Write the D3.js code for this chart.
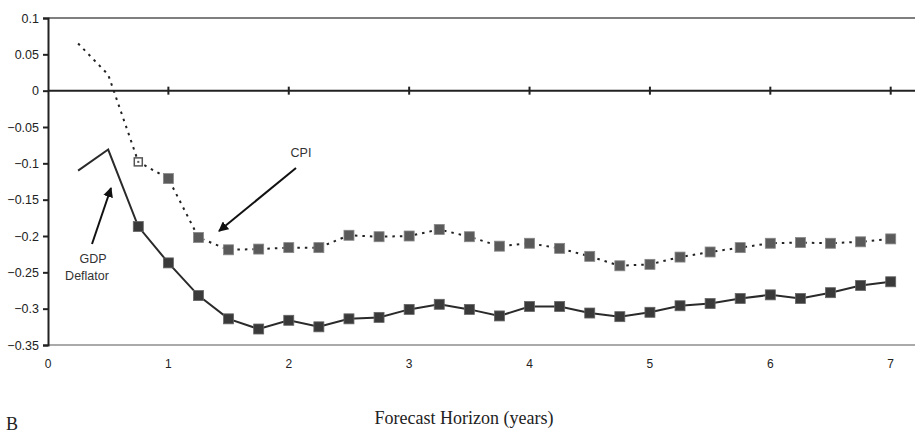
<!DOCTYPE html>
<html>
<head>
<meta charset="utf-8">
<script src="https://cdn.jsdelivr.net/npm/d3@7"></script>
<style>
  body { margin: 0; background: #fff; }
  svg { display: block; }
</style>
</head>
<body>
<div class="vis-chart"></div>
<script>
// forecast horizon in years (quarterly)
const horizon = [0.25, 0.5, 0.75, 1, 1.25, 1.5, 1.75, 2, 2.25, 2.5, 2.75, 3, 3.25, 3.5,
    3.75, 4, 4.25, 4.5, 4.75, 5, 5.25, 5.5, 5.75, 6, 6.25, 6.5, 6.75, 7];
const cpi = [0.065, 0.022, -0.098, -0.121, -0.202, -0.219, -0.218, -0.216, -0.216, -0.199,
    -0.201, -0.200, -0.191, -0.201, -0.214, -0.210, -0.217, -0.228, -0.241, -0.239,
    -0.229, -0.222, -0.216, -0.210, -0.209, -0.210, -0.208, -0.204];
const gdpDeflator = [-0.110, -0.081, -0.187, -0.237, -0.282, -0.314, -0.328, -0.316, -0.325,
    -0.314, -0.312, -0.301, -0.294, -0.301, -0.310, -0.297, -0.297, -0.306, -0.311,
    -0.305, -0.296, -0.293, -0.286, -0.281, -0.286, -0.278, -0.268, -0.263];
const yTicks = [0.1, 0.05, 0, -0.05, -0.1, -0.15, -0.2, -0.25, -0.3, -0.35];
const xTicks = [0, 1, 2, 3, 4, 5, 6, 7];

const W = 915, H = 434;

const svg = d3.select('.vis-chart')
    .append('svg')
    .attr('width', W)
    .attr('height', H);

const x = d3.scaleLinear().domain([0, 7]).range([48, 890.7]);
const y = d3.scaleLinear().domain([-0.35, 0.1]).range([345, 18]);

const sans = 'Liberation Sans, Arial, sans-serif';
const serif = 'Liberation Serif, Times New Roman, serif';

svg.append('defs').append('marker')
    .attr('id', 'arrow')
    .attr('viewBox', '0 0 10 10')
    .attr('refX', 9).attr('refY', 5)
    .attr('markerWidth', 5).attr('markerHeight', 5)
    .attr('orient', 'auto')
    .append('path')
    .attr('d', 'M0,0 L10,5 L0,10 z')
    .attr('fill', '#111');

// top and bottom frame lines
svg.append('line')
    .attr('x1', x(0)).attr('x2', W)
    .attr('y1', y(0.1)).attr('y2', y(0.1))
    .attr('stroke', '#555').attr('stroke-width', 1.5);
svg.append('line')
    .attr('x1', x(0)).attr('x2', W)
    .attr('y1', y(-0.35)).attr('y2', y(-0.35))
    .attr('stroke', '#aaa').attr('stroke-width', 2);

// y axis
const yAxis = svg.append('g')
    .attr('transform', 'translate(' + x(0) + ',0)')
    .call(d3.axisLeft(y).tickValues(yTicks).tickSize(5).tickPadding(4)
        .tickFormat(d => d3.format('')(+d.toFixed(2))));
yAxis.select('.domain').attr('stroke', '#222').attr('stroke-width', 2);
yAxis.selectAll('.tick line').attr('stroke', '#222').attr('stroke-width', 2);
yAxis.selectAll('text')
    .style('font-family', sans)
    .style('font-size', '12.5px')
    .attr('fill', '#222');

// zero line with crossing ticks
svg.append('line')
    .attr('x1', x(0)).attr('x2', W)
    .attr('y1', y(0)).attr('y2', y(0))
    .attr('stroke', '#222').attr('stroke-width', 2);
svg.selectAll('.zt')
    .data(xTicks.filter(d => d > 0))
    .enter().append('line')
    .attr('x1', d => x(d)).attr('x2', d => x(d))
    .attr('y1', y(0) - 4).attr('y2', y(0) + 4)
    .attr('stroke', '#222').attr('stroke-width', 2);

// x tick labels
svg.selectAll('.xl')
    .data(xTicks)
    .enter().append('text')
    .attr('x', d => x(d))
    .attr('y', 368)
    .attr('text-anchor', 'middle')
    .style('font-family', sans)
    .style('font-size', '12px')
    .attr('fill', '#222')
    .text(d => d);

const line = d3.line()
    .x((d, i) => x(horizon[i]))
    .y(d => y(d));

// CPI (dotted)
svg.append('path')
    .datum(cpi)
    .attr('d', line)
    .attr('fill', 'none')
    .attr('stroke', '#222')
    .attr('stroke-width', 2)
    .attr('stroke-dasharray', '2.5,5');

// GDP deflator (solid)
svg.append('path')
    .datum(gdpDeflator)
    .attr('d', line)
    .attr('fill', 'none')
    .attr('stroke', '#2a2a2a')
    .attr('stroke-width', 2);

const ms = 10;
svg.selectAll('.cpi-m')
    .data(cpi.map((v, i) => [horizon[i], v]).filter(d => d[0] >= 1))
    .enter().append('rect')
    .attr('x', d => x(d[0]) - ms / 2)
    .attr('y', d => y(d[1]) - ms / 2)
    .attr('width', ms).attr('height', ms)
    .attr('fill', '#5a5a5a')
    .attr('stroke', '#888').attr('stroke-width', 0.8);

// open marker at 0.75
svg.append('rect')
    .attr('x', x(horizon[2]) - 4)
    .attr('y', y(cpi[2]) - 4)
    .attr('width', 8).attr('height', 8)
    .attr('fill', '#fff')
    .attr('stroke', '#555').attr('stroke-width', 1.5);
svg.append('rect')
    .attr('x', x(horizon[2]) - 1)
    .attr('y', y(cpi[2]) - 1)
    .attr('width', 2).attr('height', 2)
    .attr('fill', '#555');

svg.selectAll('.gdp-m')
    .data(gdpDeflator.map((v, i) => [horizon[i], v]).filter(d => d[0] >= 0.75))
    .enter().append('rect')
    .attr('x', d => x(d[0]) - ms / 2)
    .attr('y', d => y(d[1]) - ms / 2)
    .attr('width', ms).attr('height', ms)
    .attr('fill', '#3a3a3a')
    .attr('stroke', '#666').attr('stroke-width', 0.8);

// annotations
svg.append('text')
    .attr('x', 301).attr('y', 157)
    .attr('text-anchor', 'middle')
    .style('font-family', sans).style('font-size', '12.5px')
    .attr('fill', '#333')
    .text('CPI');
svg.append('line')
    .attr('x1', 296).attr('y1', 168)
    .attr('x2', 219).attr('y2', 231)
    .attr('stroke', '#111').attr('stroke-width', 2)
    .attr('marker-end', 'url(#arrow)');

svg.append('text')
    .attr('x', 93).attr('y', 263)
    .attr('text-anchor', 'middle')
    .style('font-family', sans).style('font-size', '12.5px')
    .attr('fill', '#333')
    .text('GDP');
svg.append('text')
    .attr('x', 87).attr('y', 280)
    .attr('text-anchor', 'middle')
    .style('font-family', sans).style('font-size', '12.5px')
    .attr('fill', '#333')
    .text('Deflator');
svg.append('line')
    .attr('x1', 92).attr('y1', 244)
    .attr('x2', 111).attr('y2', 188)
    .attr('stroke', '#111').attr('stroke-width', 2)
    .attr('marker-end', 'url(#arrow)');

// axis title and panel letter
svg.append('text')
    .attr('x', 464).attr('y', 424)
    .attr('text-anchor', 'middle')
    .style('font-family', serif)
    .style('font-size', '18px')
    .attr('fill', '#222')
    .text('Forecast Horizon (years)');
svg.append('text')
    .attr('x', 6).attr('y', 430)
    .style('font-family', serif)
    .style('font-size', '18px')
    .attr('fill', '#222')
    .text('B');
</script>
</body>
</html>
